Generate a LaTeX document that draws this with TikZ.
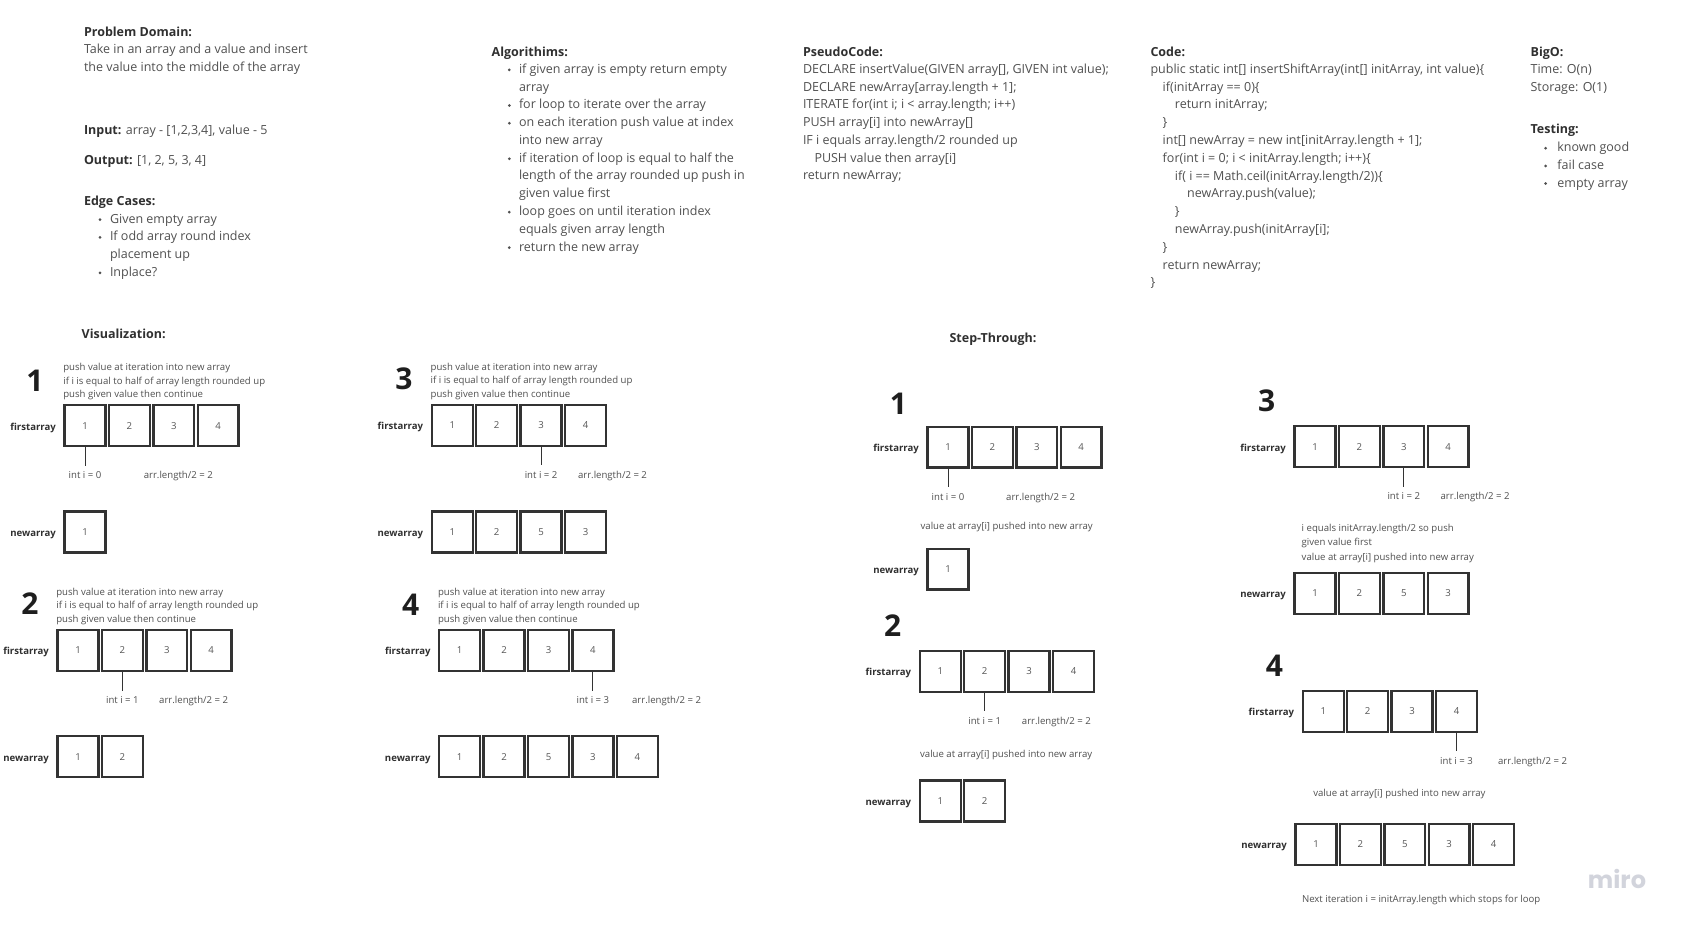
\documentclass[tikz,border=0pt]{standalone}
\usepackage{fontspec}
\setmainfont{Open Sans}
\newfontfamily\mirofont{Poppins}
\usetikzlibrary{calc}
\definecolor{bodytxt}{HTML}{505050}
\definecolor{headtxt}{HTML}{303030}
\definecolor{boxline}{HTML}{333333}
\definecolor{celltxt}{HTML}{555555}
\definecolor{digittxt}{HTML}{1E1E1E}
\definecolor{mirogray}{HTML}{D2D4DC}

\newcommand\arrrow[5]{%
  \foreach \v [count=\k] in {#4}
    \node[cell] (#1-\k) at ({#2+44.4*(\k-1)}, #3) {\v};
  \node[lbl] (#1-lab) at ($(#1-1.west)+(-8.7,3.3)$) {#5};
}
\newcommand\ptrto[4]{%
  \coordinate (#1-pt) at ($(#1-#2.south)+(0,19.7)$);
  \draw[ptr] (#1-#2.south) -- (#1-pt);
  \node[small, anchor=base] (#1-i) at ($(#1-#2.south)+(0,31.4)$) {#3};
  \node[small, anchor=base] (#1-len) at ($(#1-#2.south)+(#4,31.4)$) {arr.length/2 = 2};
}
\newcommand\desc[1]{%
  \foreach \t [count=\i from 0] in {push value at iteration into new array, if i is equal to half of array length rounded up, push given value then continue}
    \node[small, anchor=base west] (#1-d\i) at ($(#1-1.north west)+(-1.2,-35.7+13.45*\i)$) {\t};
}

\begin{document}
\begin{tikzpicture}[x=1pt,y=-1pt,
  every node/.style={inner sep=0pt, outer sep=0pt},
  big/.style={font=\fontsize{12.5}{15}\selectfont, text=bodytxt, anchor=base west, yshift=-1pt},
  bighead/.style={big, font=\fontsize{12.5}{15}\selectfont\bfseries, text=headtxt},
  small/.style={font=\fontsize{9.6}{12}\selectfont, text=bodytxt, yshift=-1pt},
  lbl/.style={font=\fontsize{9.6}{12}\selectfont\bfseries, text=headtxt, anchor=base east, yshift=-1pt},
  cell/.style={draw=boxline, line width=2.4pt, minimum size=40.9pt, font=\fontsize{9.6}{12}\selectfont, text=celltxt},
  stepnum/.style={font=\fontsize{30}{30}\selectfont\bfseries, text=digittxt, anchor=base, yshift=-1pt},
  ptr/.style={draw=boxline, line width=1pt},
  bul/.style={fill=bodytxt},
]
\path[use as bounding box, fill=white] (0,0) rectangle (1683,927);

% ---------- Problem domain ----------
\node[bighead] (pd-h) at (84,35) {Problem Domain:};
\node[big] (pd-1) at (84,52.4) {Take in an array and a value and insert};
\node[big] (pd-2) at (84,70.1) {the value into the middle of the array};
\node[big] (in) at (84,133.1) {{\bfseries\color{headtxt}Input:} array - [1,2,3,4], value - 5};
\node[big] (out) at (84,163.6) {{\bfseries\color{headtxt}Output:} [1, 2, 5, 3, 4]};
\node[bighead] (ec-h) at (84,204.4) {Edge Cases:};
\foreach \t [count=\i from 0] in {Given empty array, If odd array round index, placement up, Inplace?}
  \node[big] (ec-\i) at (110, 222.1+17.7*\i) {\t};
\foreach \i in {0,1,3} \fill[bul] (100, 219.7+17.7*\i) circle[radius=1.5pt];

% ---------- Algorithms ----------
\node[bighead] (al-h) at (491.7,55.6) {Algorithims:};
\foreach \t [count=\i from 0] in {if given array is empty return empty, array, for loop to iterate over the array, on each iteration push value at index, into new array, if iteration of loop is equal to half the, length of the array rounded up push in, given value first, loop goes on until iteration index, equals given array length, return the new array}
  \node[big] (al-\i) at (519, 72.3+17.77*\i) {\t};
\foreach \i in {0,2,3,5,8,10} \fill[bul] (509.3, 69.9+17.77*\i) circle[radius=1.5pt];

% ---------- Pseudo code ----------
\node[bighead] (ps-h) at (803,55.6) {PseudoCode:};
\foreach \d/\t [count=\i from 0] in {0/{DECLARE insertValue(GIVEN array[], GIVEN int value);}, 0/{DECLARE newArray[array.length + 1];}, 0/{ITERATE for(int i; i < array.length; i++)}, 0/{PUSH array[i] into newArray[]}, 0/{IF i equals array.length/2 rounded up}, 1/{PUSH value then array[i]}, 0/{return newArray;}}
  \node[big] (ps-\i) at (803+11.5*\d, 72.3+17.77*\i) {\t};

% ---------- Code ----------
\node[bighead] (cd-h) at (1150.5,55.6) {Code:};
\foreach \d/\t [count=\i from 0] in {0/{public static int[] insertShiftArray(int[] initArray, int value)\{}, 1/{if(initArray == 0)\{}, 2/{return initArray;}, 1/{\}}, 1/{int[] newArray = new int[initArray.length + 1];}, 1/{for(int i = 0; i < initArray.length; i++)\{}, 2/{if( i == Math.ceil(initArray.length/2))\{}, 3/{newArray.push(value);}, 2/{\}}, 2/{newArray.push(initArray[i];}, 1/{\}}, 1/{return newArray;}, 0/{\}}}
  \node[big] (cd-\i) at (1150.5+12.2*\d, 72.3+17.8*\i) {\t};

% ---------- BigO / Testing ----------
\node[bighead] (bo-h) at (1530.6,55.6) {BigO:};
\node[big] (bo-1) at (1530.6,72.3) {Time: O(n)};
\node[big] (bo-2) at (1530.6,90.1) {Storage: O(1)};
\node[bighead] (ts-h) at (1530.6,132.9) {Testing:};
\foreach \t [count=\i from 0] in {known good, fail case, empty array}
  \node[big] (ts-\i) at (1557.4, 150.6+17.7*\i) {\t};
\foreach \i in {0,1,2} \fill[bul] (1545.6, 148.2+17.7*\i) circle[radius=1.5pt];

% ---------- Visualization ----------
\node[bighead] (vis-h) at (81.7,337.3) {Visualization:};

\node[stepnum] (v1-n) at (35,390.4) {1};
\arrrow{v1a}{85}{425.7}{1,2,3,4}{firstarray}
\desc{v1a}
\ptrto{v1a}{1}{int i = 0}{93.3}
\arrrow{v1b}{85}{532}{1}{newarray}

\node[stepnum] (v2-n) at (30,613.4) {2};
\arrrow{v2a}{78}{650.5}{1,2,3,4}{firstarray}
\desc{v2a}
\ptrto{v2a}{2}{int i = 1}{71.3}
\arrrow{v2b}{78}{756.7}{1,2}{newarray}

\node[stepnum] (v3-n) at (404,388.4) {3};
\arrrow{v3a}{452.3}{425.3}{1,2,3,4}{firstarray}
\desc{v3a}
\ptrto{v3a}{3}{int i = 2}{71.4}
\arrrow{v3b}{452.3}{532}{1,2,5,3}{newarray}

\node[stepnum] (v4-n) at (410.8,614.6) {4};
\arrrow{v4a}{459.7}{650.5}{1,2,3,4}{firstarray}
\desc{v4a}
\ptrto{v4a}{4}{int i = 3}{73.7}
\arrrow{v4b}{459.7}{756.7}{1,2,5,3,4}{newarray}

% ---------- Step-Through ----------
\node[bighead, anchor=base] (st-h) at (993,341.6) {Step-Through:};

\node[stepnum] (s1-n) at (898.3,413.4) {1};
\arrrow{s1a}{948}{447.2}{1,2,3,4}{firstarray}
\ptrto{s1a}{1}{int i = 0}{92.7}
\node[small, anchor=base] (s1-t) at (1006.7,528.2) {value at array[i] pushed into new array};
\arrrow{s1b}{948}{569.2}{1}{newarray}

\node[stepnum] (s2-n) at (892.7,635.4) {2};
\arrrow{s2a}{940.3}{671.3}{1,2,3,4}{firstarray}
\ptrto{s2a}{2}{int i = 1}{71.7}
\node[small, anchor=base] (s2-t) at (1006.2,756.2) {value at array[i] pushed into new array};
\arrrow{s2b}{940.3}{801}{1,2}{newarray}

\node[stepnum] (s3-n) at (1266.6,410) {3};
\arrrow{s3a}{1315}{446.7}{1,2,3,4}{firstarray}
\ptrto{s3a}{3}{int i = 2}{71.3}
\foreach \t [count=\i from 0] in {i equals initArray.length/2 so push, given value first, value at array[i] pushed into new array}
  \node[small, anchor=base west] (s3-t\i) at (1301.7, 530.4+14.3*\i) {\t};
\arrrow{s3b}{1315}{593.3}{1,2,5,3}{newarray}

\node[stepnum] (s4-n) at (1274.5,675.4) {4};
\arrrow{s4a}{1323.3}{711.3}{1,2,3,4}{firstarray}
\ptrto{s4a}{4}{int i = 3}{76}
\node[small, anchor=base] (s4-t) at (1399.4,795.2) {value at array[i] pushed into new array};
\arrrow{s4b}{1316}{844.3}{1,2,5,3,4}{newarray}
\node[small, anchor=base west] (s4-end) at (1302,901.5) {Next iteration i = initArray.length which stops for loop};

\node[font=\mirofont\fontsize{24}{24}\selectfont\bfseries, text=mirogray, anchor=base] (miro) at (1617,888) {miro};
\end{tikzpicture}
\end{document}
